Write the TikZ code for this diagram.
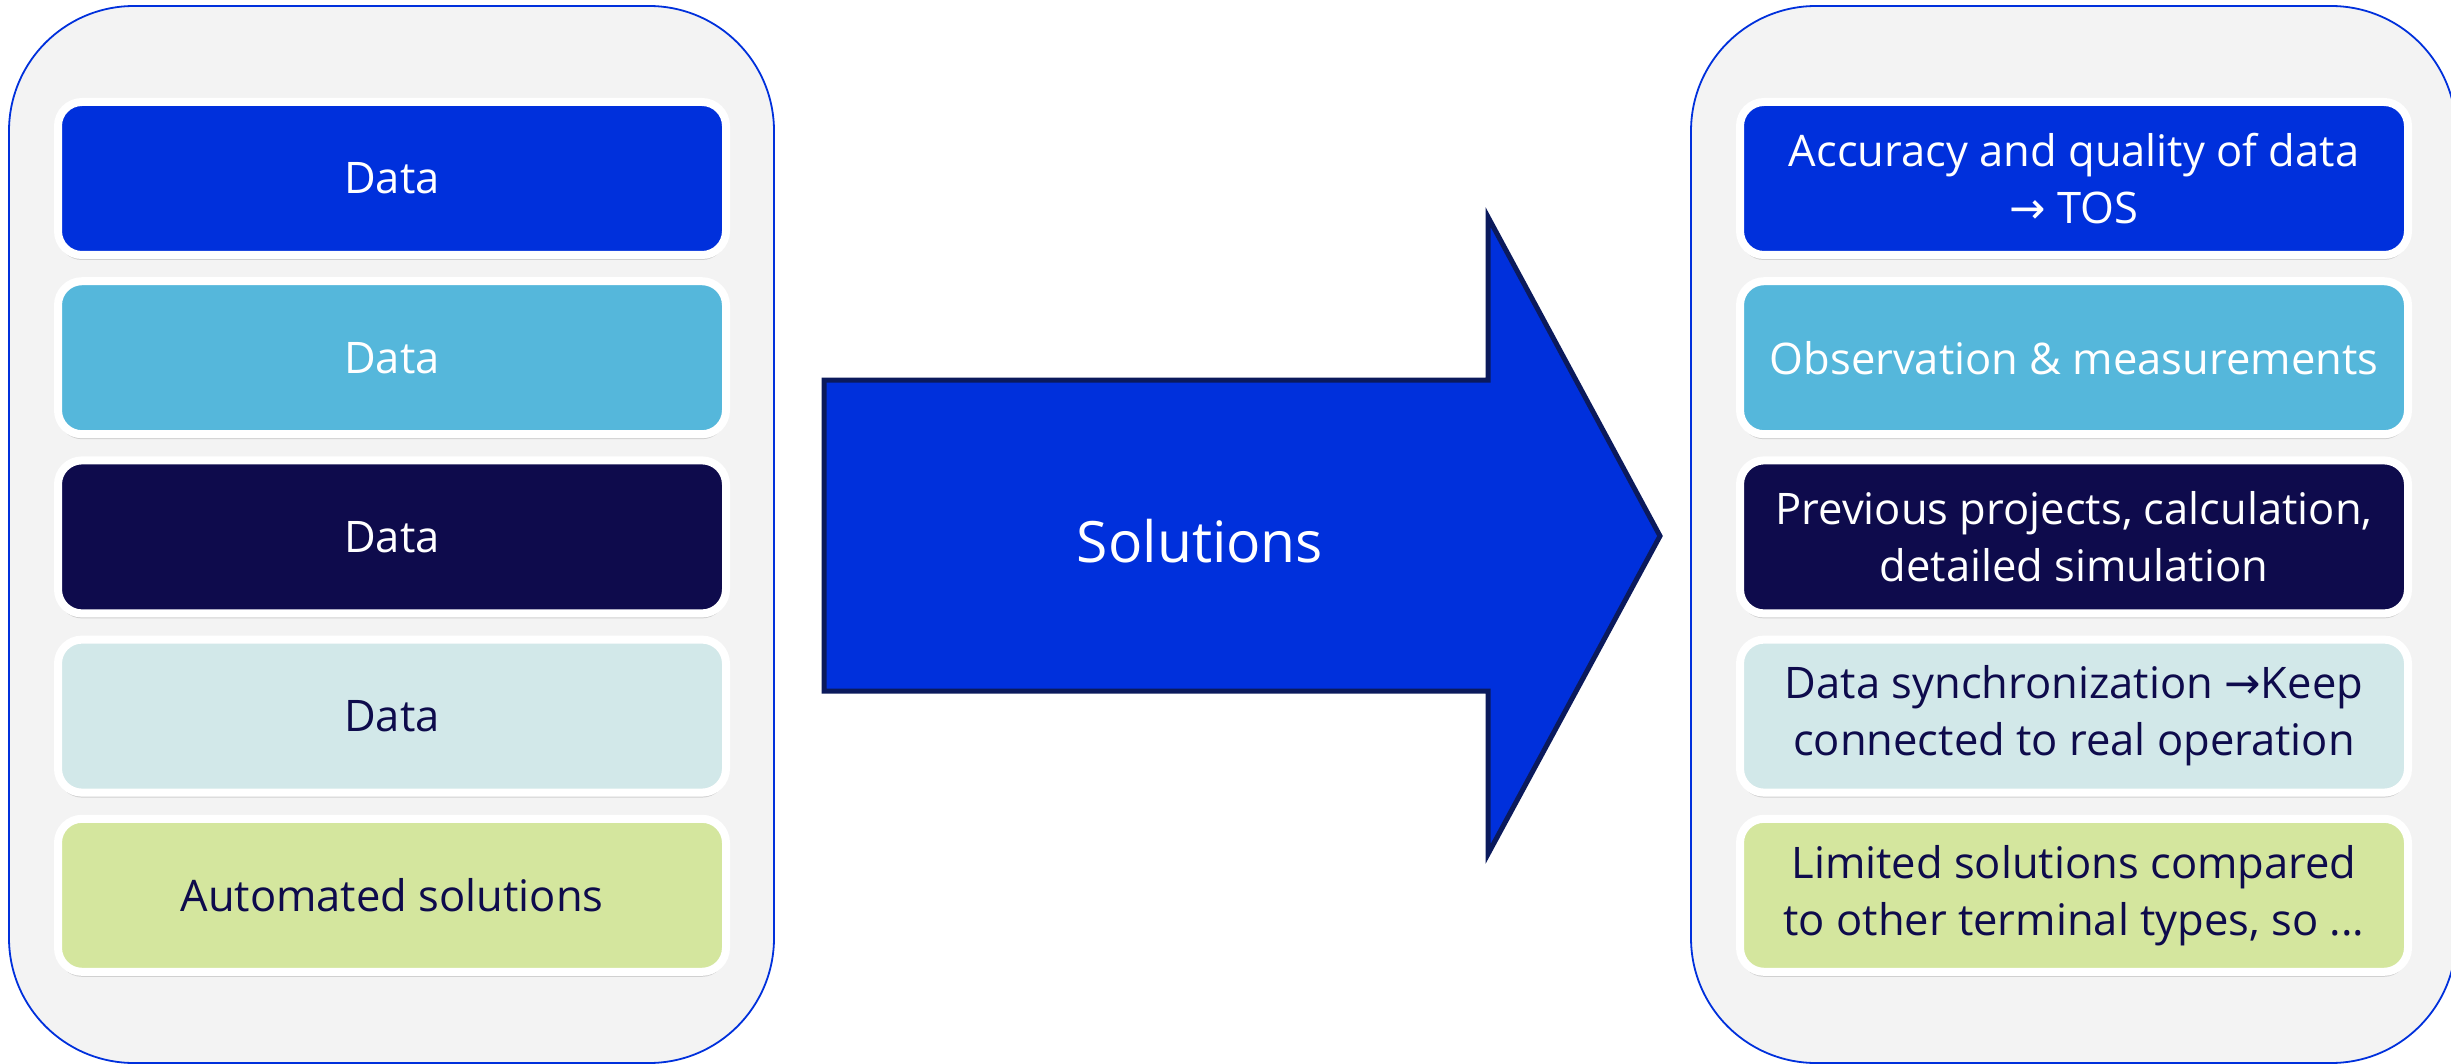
\documentclass[tikz,border=0pt]{standalone}
\usepackage{fontspec}
\setmainfont{Open Sans}
\newfontfamily\symfont{DejaVu Sans}
\usetikzlibrary{shadows}

\definecolor{brandblue}{HTML}{0030DC}
\definecolor{skyblue}{HTML}{55B7DB}
\definecolor{navy}{HTML}{0E0B4C}
\definecolor{mist}{HTML}{D2E8E9}
\definecolor{lime}{HTML}{D4E69E}
\definecolor{panelgray}{HTML}{F3F3F3}
\definecolor{arrowedge}{HTML}{0B1A5C}

\tikzset{
  panel/.style={draw=brandblue, line width=1.8pt, fill=panelgray,
    rounded corners=125pt, minimum width=765pt, minimum height=1057pt},
  item/.style={draw=white, line width=8pt, rounded corners=24pt,
    minimum width=668pt, minimum height=153pt, inner sep=0pt, align=center,
    font=\fontsize{43.5}{57}\selectfont,
    drop shadow={shadow xshift=0pt, shadow yshift=-5pt, opacity=0.3}},
}

\begin{document}
\begin{tikzpicture}[x=1pt,y=-1pt]
  \useasboundingbox (0,0) rectangle (2451,1064);

  % the two columns
  \node[panel] (left) at (391.5,534.5) {};
  \node[panel] (right) at (2073.5,534.5) {};

  \foreach \bg/\fg/\txt [count=\i] in {brandblue/white/Data, skyblue/white/Data,
      navy/white/Data, mist/navy/Data, lime/navy/Automated solutions}
    \node[item, fill=\bg, text=\fg] (l\i) at (392,{178.5+(\i-1)*179.2}) {\txt};

  \foreach \bg/\fg/\txt [count=\i] in {
      brandblue/white/{Accuracy and quality of data\\{\symfont →} TOS},
      skyblue/white/{Observation \& measurements},
      navy/white/{Previous projects, calculation,\\detailed simulation},
      mist/navy/{Data synchronization {\symfont →}Keep\\connected to real operation},
      lime/navy/{Limited solutions compared\\to other terminal types, so ...}}
    \node[item, fill=\bg, text=\fg] (r\i) at (2074,{178.5+(\i-1)*179.2}) {\txt};

  % big arrow in the middle
  \draw[fill=brandblue, draw=arrowedge, line width=5pt]
    (824,380) -- (1488,380) -- (1488,217) -- (1660,536)
    -- (1488,854) -- (1488,691) -- (824,691) -- cycle;
  \node[text=white, font=\fontsize{57}{64}\selectfont] (sol) at (1200,541) {Solutions};
\end{tikzpicture}
\end{document}
